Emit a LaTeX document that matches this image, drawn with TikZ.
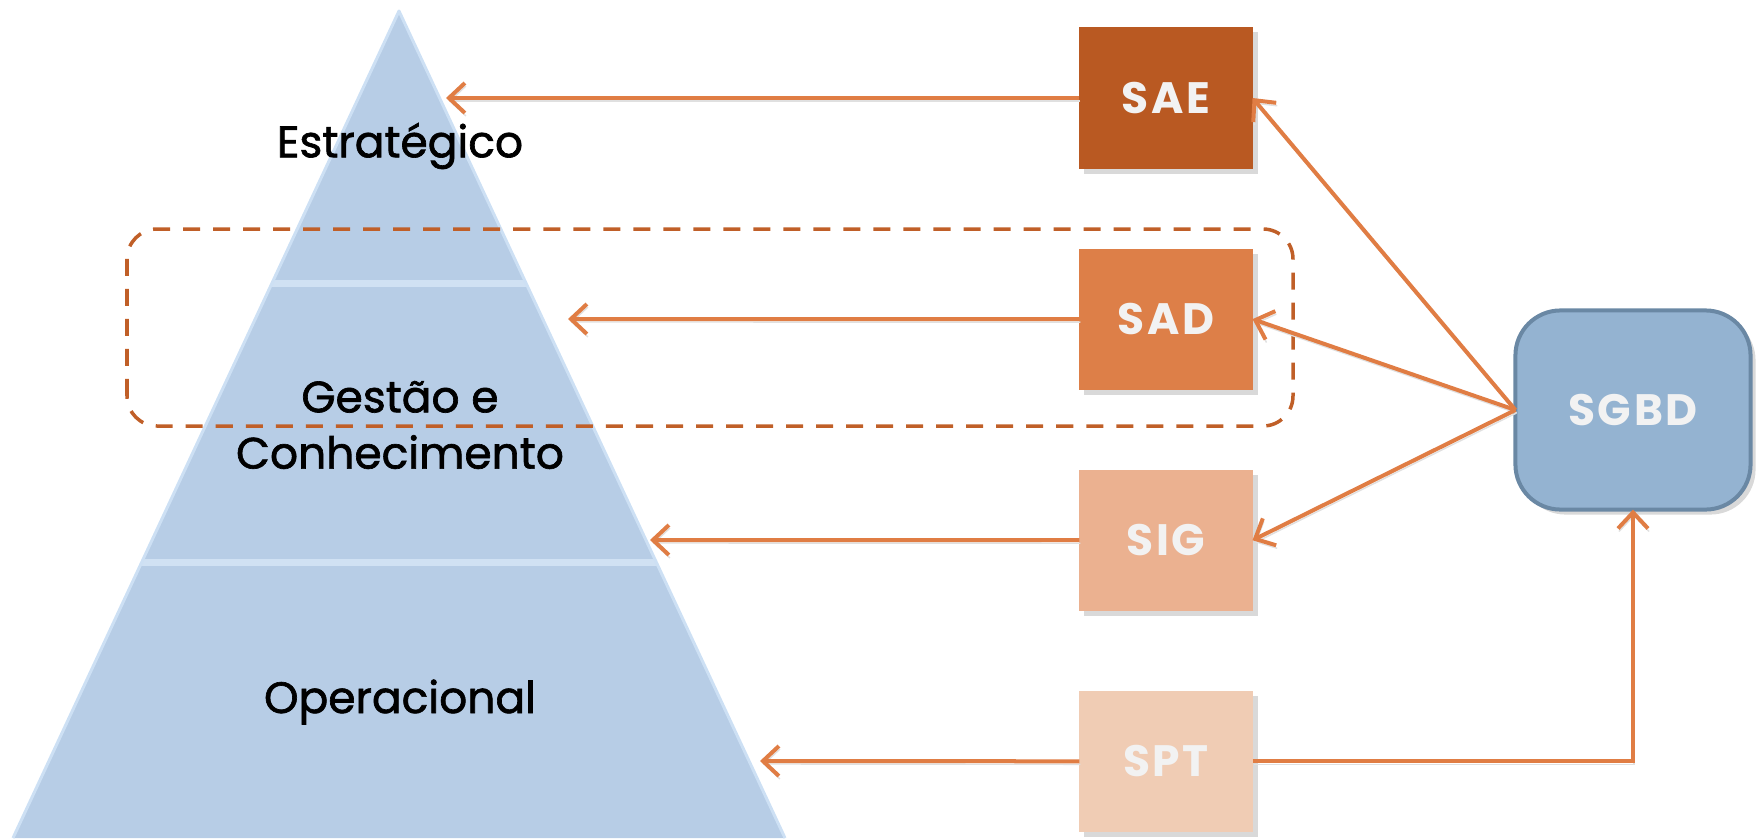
\documentclass[tikz,border=0pt]{standalone}
\usepackage{fontspec}
\setmainfont{Poppins}
\newfontfamily\levelfont[FakeBold=1.5]{Poppins}
\newfontfamily\boxfont[LetterSpace=6]{Poppins}
\usetikzlibrary{positioning,shadows,arrows.meta}
\definecolor{saecol}{RGB}{185,89,34}
\definecolor{sadcol}{RGB}{221,127,72}
\definecolor{sigcol}{RGB}{235,177,144}
\definecolor{sptcol}{RGB}{240,204,180}
\definecolor{sgbdcol}{RGB}{148,179,209}
\definecolor{sgbdedge}{RGB}{106,136,164}
\definecolor{pyrcol}{RGB}{183,205,230}
\definecolor{pyrlight}{RGB}{208,225,243}
\definecolor{pyredge}{RGB}{205,224,244}
\definecolor{flowcol}{RGB}{224,125,68}
\definecolor{dashcol}{RGB}{192,95,40}
\definecolor{boxtext}{RGB}{242,242,242}

\begin{document}
\begin{tikzpicture}[x=0.01cm, y=0.01cm]
	\tikzstyle{sysbox} = [rectangle, minimum width=1.73cm, minimum height=1.41cm, inner sep=0, outer sep=0, text=boxtext, font=\boxfont\fontsize{12.5}{15}\selectfont\bfseries, drop shadow={shadow xshift=0.05cm, shadow yshift=-0.05cm, opacity=0.3}]
	\tikzstyle{flow} = [draw=flowcol, line width=0.04cm, -{Straight Barb[length=0.16cm, width=0.3cm]}, preaction={draw=black!12, transform canvas={shift={(0.01cm,-0.03cm)}}}]
	\tikzstyle{level} = [font=\levelfont\fontsize{12.5}{16}\selectfont, align=center]
	\useasboundingbox (0,0) rectangle (1756,838);
	
	% pyramid
	\coordinate (top) at (399,827);
	\coordinate (bl) at (13,0);
	\coordinate (br) at (785,0);
	\begin{scope}
	\clip (bl) -- (top) -- (br) -- cycle;
	\fill[pyrcol] (bl) -- (top) -- (br) -- cycle;
	\fill[pyrlight] (0,551) rectangle (800,558);
	\fill[pyrlight] (0,272) rectangle (800,279);
	\end{scope}
	\draw[pyredge, line width=0.03cm, line join=round] (bl) -- (top) -- (br);
	
	\node[level] (strat) at (400,692) {Estratégico};
	\node[level] (gest) at (400,413) {Gestão e\\Conhecimento};
	\node[level] (oper) at (400,136) {Operacional};
	
	% systems
	\node[sysbox, fill=saecol] (SAE) at (1166,740) {SAE};
	\node[sysbox, fill=sadcol, below=0.8cm of SAE] (SAD) {SAD};
	\node[sysbox, fill=sigcol, below=0.8cm of SAD] (SIG) {SIG};
	\node[sysbox, fill=sptcol, below=0.8cm of SIG] (SPT) {SPT};
	\node[sysbox, fill=sgbdcol, draw=sgbdedge, line width=0.04cm, rounded corners=0.45cm, minimum width=2.35cm, minimum height=1.99cm] (SGBD) at (1633,428) {SGBD};
	
	% dashed frame
	\draw[dashcol, line width=0.035cm, dash pattern=on 0.17cm off 0.13cm, rounded corners=0.3cm] (127,412) rectangle (1293,609);
	
	\coordinate (tE) at (446,740);
	\coordinate (tD) at (568,519);
	\coordinate (tG) at (650,298);
	\coordinate (tP) at (760,77);
	
	\draw[flow] (SAE) -- (tE);
	\draw[flow] (SAD) -- (tD);
	\draw[flow] (SIG) -- (tG);
	\draw[flow] (SPT) -- (tP);
	
	\draw[flow] (SGBD.west) -- (SAE.east);
	\draw[flow] (SGBD.west) -- (SAD.east);
	\draw[flow] (SGBD.west) -- (SIG.east);
	\draw[flow] (SPT.east) -| (SGBD.south);
	
\end{tikzpicture}
\end{document}
